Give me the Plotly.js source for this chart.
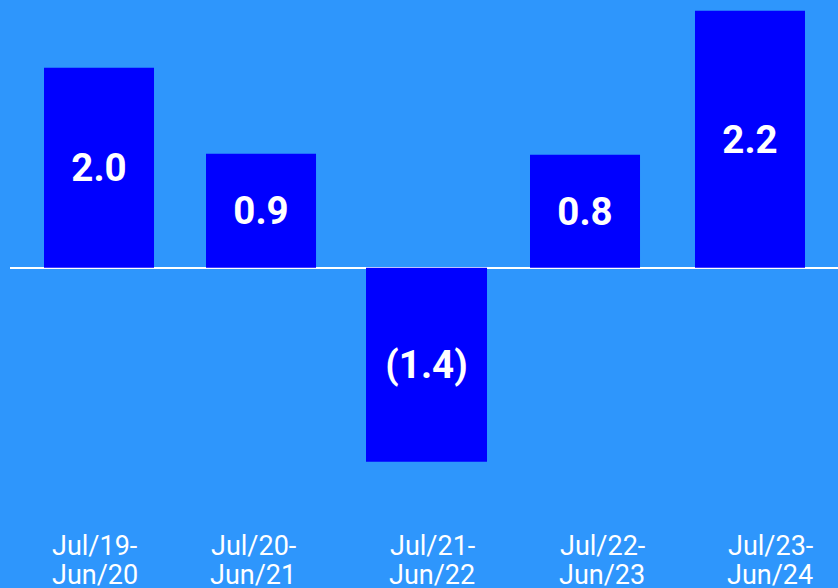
<!DOCTYPE html>
<html>
<head>
<meta charset="utf-8">
<script src="https://cdn.plot.ly/plotly-3.0.1.min.js"></script>
<style>
  html, body { margin: 0; padding: 0; background: #2E96FC; }
  #chart { width: 838px; height: 588px; }
</style>
</head>
<body>
<div id="chart"></div>
<script>
// Categories (fiscal periods)
const categories = ["Jul/19-Jun/20", "Jul/20-Jun/21", "Jul/21-Jun/22", "Jul/22-Jun/23", "Jul/23-Jun/24"];
// Tick label lines
const periodStart = ["Jul/19-", "Jul/20-", "Jul/21-", "Jul/22-", "Jul/23-"];
const periodEnd = ["Jun/20", "Jun/21", "Jun/22", "Jun/23", "Jun/24"];
// Bar lengths as drawn in the picture (not to scale with the printed labels)
const barHeights = [2.0, 1.14, -1.94, 1.13, 2.57];
// Printed value labels
const valueLabels = ["2.0", "0.9", "(1.4)", "0.8", "2.2"];

const barWidths = [0.676, 0.676, 0.7435, 0.676, 0.676];
const barOffsets = [-0.338, -0.3425, -0.3594, -0.3518, -0.338];
const labelShiftPx = [-4.5, -8.5, 7.5, 15, 20];

const trace = {
  type: "bar",
  x: categories,
  y: barHeights,
  text: valueLabels,
  texttemplate: "%{text}",
  textposition: "inside",
  insidetextanchor: "middle",
  constraintext: "none",
  textangle: 0,
  textfont: { family: "Roboto, sans-serif", size: 38.5, color: "#FFFFFF", weight: "bold" },
  width: barWidths,
  offset: barOffsets,
  marker: { color: "#0000FF", line: { width: 0 } },
  hoverinfo: "skip"
};

const annotations = [];
categories.forEach((c, i) => {
  annotations.push({
    x: c, xref: "x", y: 1 - 546.3 / 588, yref: "paper",
    text: periodStart[i], showarrow: false, xanchor: "center", yanchor: "middle",
    xshift: labelShiftPx[i],
    font: { family: "Roboto, sans-serif", size: 27, color: "#FFFFFF" }
  });
  annotations.push({
    x: c, xref: "x", y: 1 - 574.7 / 588, yref: "paper",
    text: periodEnd[i], showarrow: false, xanchor: "center", yanchor: "middle",
    xshift: labelShiftPx[i],
    font: { family: "Roboto, sans-serif", size: 27, color: "#FFFFFF" }
  });
});

const layout = {
  width: 838,
  height: 588,
  margin: { l: 10, r: 0, t: 0, b: 0, pad: 0 },
  paper_bgcolor: "#2E96FC",
  plot_bgcolor: "#2E96FC",
  showlegend: false,
  xaxis: {
    type: "category",
    range: [-0.5469, 4.5407],
    showticklabels: false,
    showgrid: false,
    zeroline: false,
    showline: false,
    ticks: ""
  },
  yaxis: {
    range: [-3.202, 2.678],
    showticklabels: false,
    showgrid: false,
    zeroline: true,
    zerolinecolor: "#FFFFFF",
    zerolinewidth: 2,
    showline: false,
    ticks: ""
  },
  annotations: annotations
};

Plotly.newPlot("chart", [trace], layout, { displayModeBar: false, staticPlot: true });
</script>
</body>
</html>
